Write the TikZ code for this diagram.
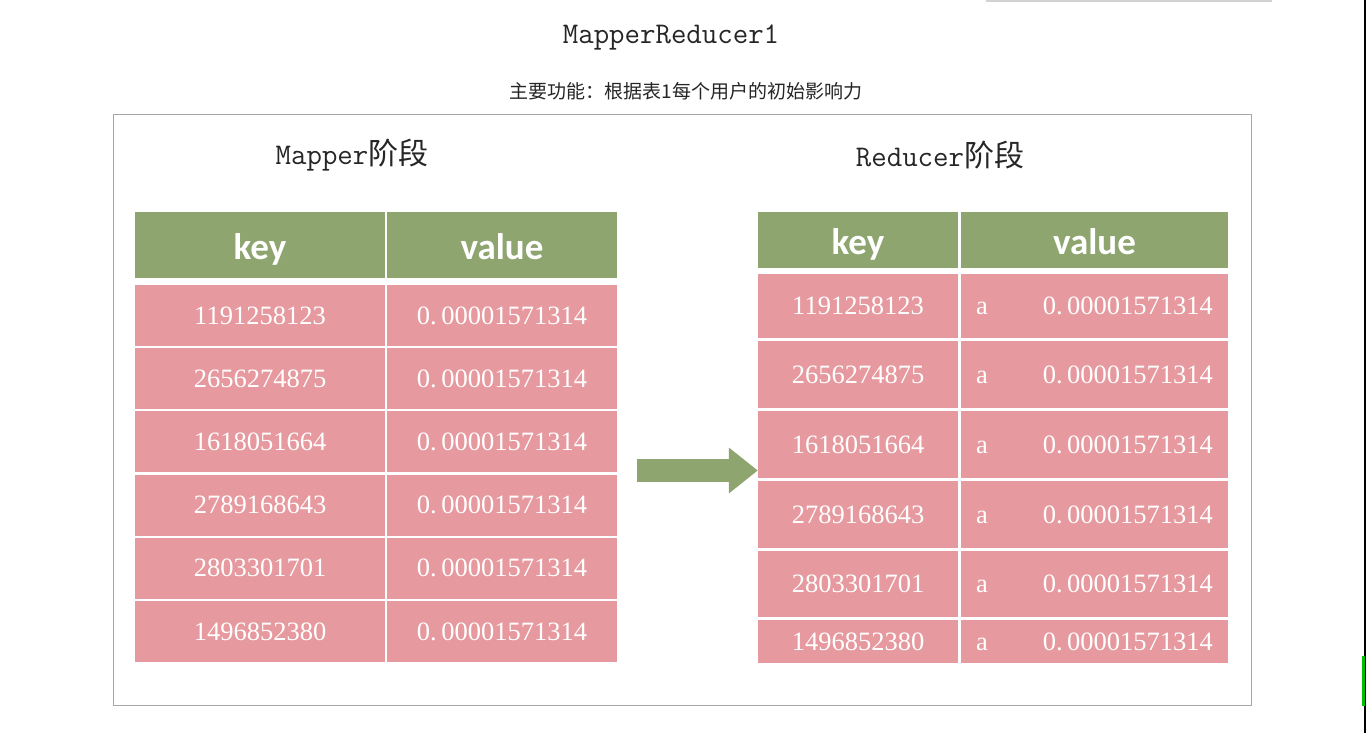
\documentclass[tikz,border=0pt]{standalone}
\usepackage{fontspec}
\newfontfamily\cjk{Noto Sans CJK SC}
\newfontfamily\hdfont{Carlito}
\newfontfamily\numfont{Liberation Serif}
\usepackage{tikz}
\usetikzlibrary{positioning,arrows.meta}
\usepackage{xcolor}
\definecolor{hdgreen}{HTML}{8EA570}
\definecolor{cellpink}{HTML}{E6999E}

\begin{document}
\begin{tikzpicture}[x=1pt,y=-1pt,
  hd/.style={fill=hdgreen,text=white,inner sep=0pt,text height=36pt,text depth=8pt,font=\hdfont\bfseries\fontsize{37}{37}\selectfont},
  cell/.style={fill=cellpink,text=white,inner sep=0pt,font=\numfont\fontsize{26.5}{26.5}\selectfont},
  stage/.style={font=\ttfamily\fontsize{30}{30}\selectfont,text=black!85}]
\fill[white] (0,0) rectangle (1366,733);
\useasboundingbox (0,0) rectangle (1366,733);
% window edge bits
\fill[gray!35] (986,0) rectangle (1272,2.5);
\fill[black] (1364,0) rectangle (1366,733);
\fill[green!75!black] (1361.5,656) rectangle (1364.5,706);

\node[stage] (title) at (671,37) {MapperReducer1};
\node[font=\cjk\fontsize{19}{19}\selectfont,text=black!85] (sub) at (686,91) {主要功能：根据表1每个用户的初始影响力};
\node[draw=black!35,line width=1pt,minimum width=1138pt,minimum height=590pt] (frame) at (682,410) {};

\node[stage] (maphd) at (352,155) {Mapper{\cjk 阶段}};
\node[stage] (redhd) at (940,155) {Reducer{\cjk 阶段}};

% Mapper table
\node[hd,minimum width=250pt,minimum height=66pt] (lkey) at (260,245) {key};
\node[hd,minimum width=230pt,minimum height=66pt] (lval) at (502,245) {value};
\foreach \i/\cy/\k in {1/315.5/1191258123,2/378.7/2656274875,3/441.9/1618051664,4/505.1/2789168643,5/568.3/2803301701,6/631.5/1496852380}{
  \node[cell,minimum width=250pt,minimum height=61pt] (lk\i) at (260,\cy) {\k};
  \node[cell,minimum width=230pt,minimum height=61pt] (lv\i) at (502,\cy) {0.\,00001571314};
}

% Reducer table
\node[hd,minimum width=200pt,minimum height=56pt] (rkey) at (858,240) {key};
\node[hd,minimum width=267pt,minimum height=56pt] (rval) at (1094.5,240) {value};
\foreach \i/\cy/\h/\k in {1/306/64/1191258123,2/374.5/67/2656274875,3/444.5/67/1618051664,4/514.5/67/2789168643,5/584/66/2803301701,6/641.5/43/1496852380}{
  \node[cell,minimum width=200pt,minimum height=\h pt] (rk\i) at (858,\cy) {\k};
  \node[cell,minimum height=\h pt,text width=237pt,inner xsep=15pt] (rv\i) at (1094.5,\cy) {\noindent a\hfill 0.\,00001571314};
}

\coordinate (tail) at (637,470.5);
\draw[hdgreen,line width=23pt,-{Triangle[length=29pt,width=44pt]}] (tail) -- (tail -| rk3.west);
\end{tikzpicture}
\end{document}
